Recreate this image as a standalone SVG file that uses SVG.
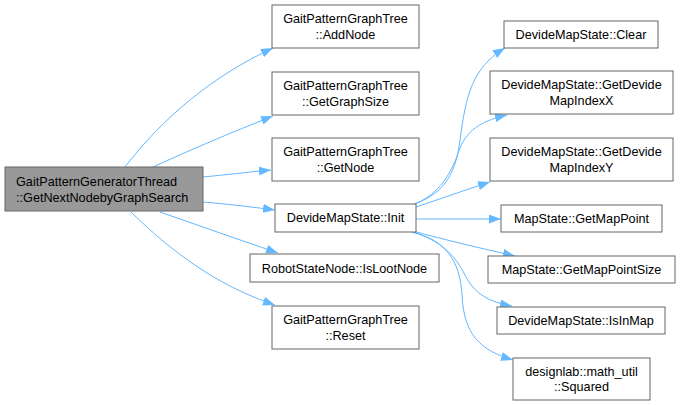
<svg xmlns="http://www.w3.org/2000/svg" width="681" height="405" viewBox="0 0 681 405">
<style>
.n rect{fill:#ffffff;stroke:#666666;stroke-width:1}
.n.main rect{fill:#999999}
text{font-family:"Liberation Sans",Arial,Helvetica,sans-serif;font-size:12.67px;fill:#000000;text-anchor:middle}
.main text{text-anchor:start}
.e path{fill:none;stroke:#63b8ff;stroke-width:1;marker-end:url(#arr)}
</style>
<defs>
<marker id="arr" viewBox="0 0 12 9" refX="12" refY="4.5" markerWidth="12" markerHeight="9" markerUnits="userSpaceOnUse" orient="auto">
<path d="M0,0 L12,4.5 L0,9 z" fill="#63b8ff"/>
</marker>
</defs>
<rect width="681" height="405" fill="#ffffff"/>
<g id="edges" class="e">
<path d="M125,167 C165,115 215,75 273,48"/>
<path d="M153,167 C190,150 230,133 273,116"/>
<path d="M203,177 C225,175 248,172 271,170"/>
<path d="M203,202 C228,204 252,207 275,210"/>
<path d="M160,212 C200,226 240,240 278,253"/>
<path d="M131,212 C170,250 215,285 275,305"/>
<path d="M412,205 C440,195 455,180 460,140 C466,95 472,68 505,48"/>
<path d="M412,205 C440,195 452,172 460,148 C468,128 485,120 507,115"/>
<path d="M416,207 C440,199 465,190 490,182"/>
<path d="M416,219 L501,219"/>
<path d="M413,231 C445,240 480,248 515,256"/>
<path d="M412,232 C440,240 455,255 465,275 C475,295 490,302 512,306"/>
<path d="M412,232 C445,240 460,260 462,295 C464,335 480,350 513,360"/>
</g>
<g id="main" class="n main"><rect x="5" y="167" width="198" height="44"/><text x="16" y="186">GaitPatternGeneratorThread</text><text x="16" y="201.5">::GetNextNodebyGraphSearch</text></g>
<g id="addnode" class="n"><rect x="272" y="5" width="147" height="43"/><text x="345.5" y="23">GaitPatternGraphTree</text><text x="345.5" y="38.5">::AddNode</text></g>
<g id="getgraphsize" class="n"><rect x="272" y="72" width="147" height="43"/><text x="345.5" y="90">GaitPatternGraphTree</text><text x="345.5" y="105.5">::GetGraphSize</text></g>
<g id="getnode" class="n"><rect x="272" y="138" width="147" height="43"/><text x="345.5" y="156">GaitPatternGraphTree</text><text x="345.5" y="171.5">::GetNode</text></g>
<g id="init" class="n"><rect x="275" y="204" width="141" height="28"/><text x="345.5" y="222">DevideMapState::Init</text></g>
<g id="islootnode" class="n"><rect x="250" y="254" width="189" height="28"/><text x="344.5" y="272.5">RobotStateNode::IsLootNode</text></g>
<g id="reset" class="n"><rect x="272" y="306" width="147" height="43"/><text x="345.5" y="324">GaitPatternGraphTree</text><text x="345.5" y="339.5">::Reset</text></g>
<g id="clear" class="n"><rect x="504" y="21" width="154" height="27"/><text x="581" y="38.5">DevideMapState::Clear</text></g>
<g id="indexx" class="n"><rect x="490" y="71" width="183" height="43"/><text x="581.5" y="89">DevideMapState::GetDevide</text><text x="581.5" y="104.5">MapIndexX</text></g>
<g id="indexy" class="n"><rect x="490" y="138" width="183" height="43"/><text x="581.5" y="156">DevideMapState::GetDevide</text><text x="581.5" y="171.5">MapIndexY</text></g>
<g id="getmappoint" class="n"><rect x="501" y="205" width="161" height="27"/><text x="581.5" y="222.5">MapState::GetMapPoint</text></g>
<g id="getmappointsize" class="n"><rect x="488" y="256" width="187" height="27"/><text x="581.5" y="273.5">MapState::GetMapPointSize</text></g>
<g id="isinmap" class="n"><rect x="497" y="307" width="168" height="27"/><text x="581" y="324.5">DevideMapState::IsInMap</text></g>
<g id="squared" class="n"><rect x="513" y="358" width="137" height="42"/><text x="581.5" y="375.5">designlab::math_util</text><text x="581.5" y="391">::Squared</text></g>
</svg>
